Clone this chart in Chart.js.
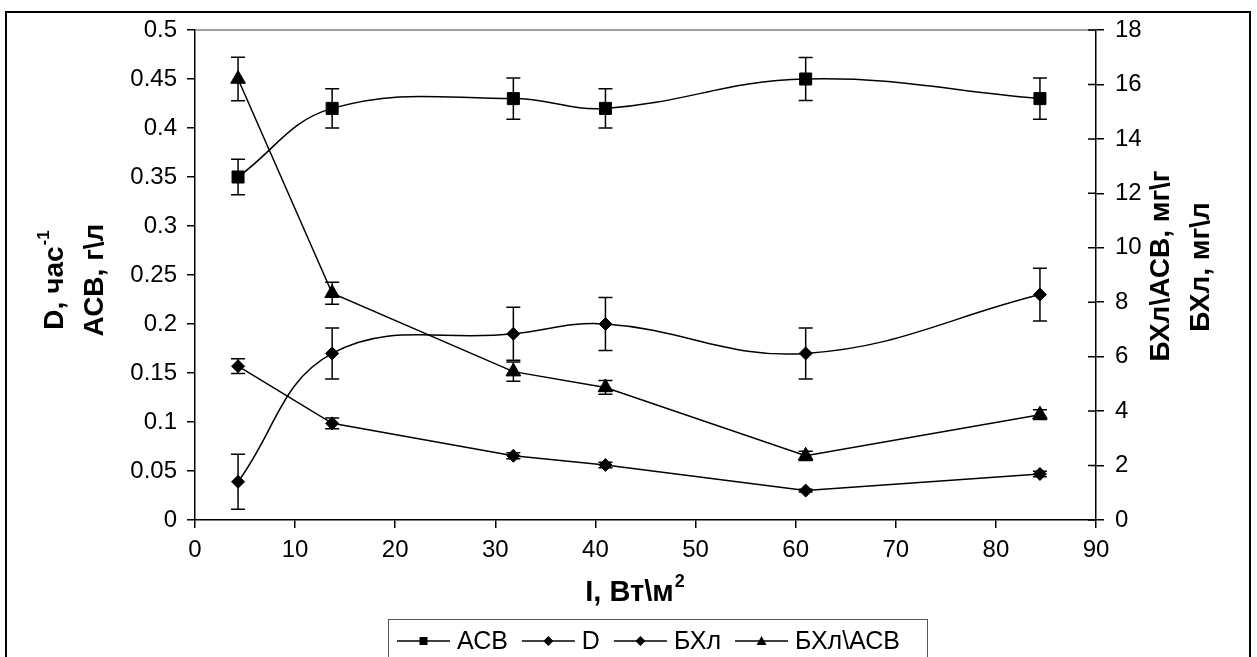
<!DOCTYPE html>
<html>
<head>
<meta charset="utf-8">
<script src="https://cdn.jsdelivr.net/npm/chart.js"></script>
<style>
  body { margin: 0; background: #fff; }
  canvas { display: block; }
</style>
</head>
<body>
<canvas id="chart" width="1257" height="657"></canvas>
<script>
// освещённость, Вт/м2
let light = [4.3, 13.7, 31.8, 41, 61, 84.4];

// левая ось
let acb = [0.35, 0.42, 0.43, 0.42, 0.45, 0.43];
let acbErr = [0.018, 0.02, 0.021, 0.02, 0.022, 0.021];
let dRate = [0.039, 0.17, 0.19, 0.2, 0.17, 0.23];
let dErr = [0.028, 0.026, 0.027, 0.027, 0.026, 0.027];

// правая ось
let bchl = [5.65, 3.55, 2.36, 2.02, 1.08, 1.69];
let bchlErr = [0.27, 0.2, 0.11, 0.1, 0.05, 0.1];
let ratio = [16.2, 8.33, 5.45, 4.87, 2.36, 3.87];
let ratioErr = [0.8, 0.4, 0.35, 0.25, 0.17, 0.18];

let xTicks = [0, 90, 10];
let yTicks = [0, 0.5, 0.05];
let y2Ticks = [0, 18, 2];

let FONT = '"Liberation Sans", Arial, sans-serif';

function pts(vals) {
  return vals.map((v, i) => ({ x: light[i], y: v }));
}

function series(label, vals, err, axis, style, radius, tension) {
  return {
    label: label,
    data: pts(vals),
    err: err,
    yAxisID: axis,
    borderColor: '#000',
    borderWidth: 1.5,
    tension: tension,
    pointStyle: style,
    pointRadius: radius,
    pointBackgroundColor: '#000',
    pointBorderColor: '#000',
    pointBorderWidth: 1
  };
}

let errorBars = {
  id: 'errorBars',
  beforeDatasetsDraw(chart) {
    let ctx = chart.ctx;
    let xs = chart.scales.x;
    ctx.save();
    ctx.strokeStyle = '#000';
    ctx.lineWidth = 1.5;
    chart.data.datasets.forEach(ds => {
      let ys = chart.scales[ds.yAxisID];
      ds.data.forEach((p, i) => {
        let e = ds.err[i];
        let px = xs.getPixelForValue(p.x);
        let top = ys.getPixelForValue(p.y + e);
        let bot = ys.getPixelForValue(p.y - e);
        ctx.beginPath();
        ctx.moveTo(px, top); ctx.lineTo(px, bot);
        ctx.moveTo(px - 7, top); ctx.lineTo(px + 7, top);
        ctx.moveTo(px - 7, bot); ctx.lineTo(px + 7, bot);
        ctx.stroke();
      });
    });
    ctx.restore();
  }
};

function titleText(ctx, cx, cy, main, sup, size) {
  let big = 'bold ' + size + 'px ' + FONT;
  let small = 'bold ' + Math.round(size * 0.62) + 'px ' + FONT;
  ctx.font = big;
  let w1 = ctx.measureText(main).width;
  ctx.font = small;
  let w2 = sup ? ctx.measureText(sup).width + 1 : 0;
  let x0 = cx - (w1 + w2) / 2;
  ctx.textAlign = 'left';
  ctx.textBaseline = 'middle';
  ctx.font = big;
  ctx.fillText(main, x0, cy);
  if (sup) {
    ctx.font = small;
    ctx.fillText(sup, x0 + w1 + 1, cy - size * 0.38);
  }
}

function vTitle(ctx, x, y, main, sup) {
  ctx.save();
  ctx.translate(x, y);
  ctx.rotate(-Math.PI / 2);
  titleText(ctx, 0, 0, main, sup, 28);
  ctx.restore();
}

let decor = {
  id: 'decor',
  afterDraw(chart) {
    let ctx = chart.ctx;
    let a = chart.chartArea;
    ctx.save();
    ctx.fillStyle = '#000';

    // верхняя граница области построения
    ctx.strokeStyle = '#808080';
    ctx.lineWidth = 1.5;
    ctx.beginPath();
    ctx.moveTo(a.left, a.top); ctx.lineTo(a.right, a.top);
    ctx.stroke();

    // внутренние засечки правой оси
    let y2 = chart.scales.y2;
    ctx.strokeStyle = '#000';
    ctx.beginPath();
    y2.ticks.forEach(t => {
      let py = y2.getPixelForValue(t.value);
      ctx.moveTo(a.right - 8, py); ctx.lineTo(a.right, py);
    });
    ctx.stroke();

    // рамка диаграммы
    ctx.lineWidth = 2;
    ctx.strokeRect(6, 12, 1244, 700);

    // подписи осей
    vTitle(ctx, 55, 280, 'D, час', '-1');
    vTitle(ctx, 95, 280, 'АСВ, г\\л', '');
    vTitle(ctx, 1161, 266, 'БХл\\АСВ, мг\\г', '');
    vTitle(ctx, 1201, 267, 'БХл, мг\\л', '');
    titleText(ctx, 635, 593, 'I, Вт\\м', '2', 29);

    // легенда
    ctx.strokeStyle = '#555';
    ctx.lineWidth = 1;
    ctx.strokeRect(388.5, 619.5, 539, 60);
    ctx.font = '25px ' + FONT;
    ctx.textBaseline = 'middle';
    ctx.textAlign = 'left';
    let x = 397;
    let y = 641;
    chart.data.datasets.forEach(ds => {
      ctx.strokeStyle = '#000';
      ctx.lineWidth = 1.5;
      ctx.beginPath();
      ctx.moveTo(x, y); ctx.lineTo(x + 53, y);
      ctx.stroke();
      let mx = x + 26.5;
      ctx.beginPath();
      if (ds.pointStyle === 'rect') {
        ctx.rect(mx - 4, y - 4, 8, 8);
      } else if (ds.pointStyle === 'rectRot') {
        ctx.moveTo(mx, y - 5); ctx.lineTo(mx + 5, y); ctx.lineTo(mx, y + 5); ctx.lineTo(mx - 5, y);
      } else {
        ctx.moveTo(mx, y - 5); ctx.lineTo(mx + 5, y + 4); ctx.lineTo(mx - 5, y + 4);
      }
      ctx.closePath();
      ctx.fill();
      ctx.fillText(ds.label, x + 60, y + 1);
      x += 60 + ctx.measureText(ds.label).width + 14;
    });
    ctx.restore();
  }
};

function fmt(v) {
  return String(Number(v.toFixed(2)));
}

let axisGrid = { drawOnChartArea: false, color: '#000', tickLength: 8, lineWidth: 1.5 };
let axisBorder = { color: '#000', width: 1.5 };
let tickFont = { family: FONT, size: 24 };

let ctx = document.getElementById('chart').getContext('2d');

let chart = new Chart(ctx, {
  type: 'line',
  data: {
    datasets: [
      series('АСВ', acb, acbErr, 'y', 'rect', 8.5, 0.4),
      series('D', dRate, dErr, 'y', 'rectRot', 6.5, 0.4),
      series('БХл', bchl, bchlErr, 'y2', 'rectRot', 6.5, 0),
      series('БХл\\АСВ', ratio, ratioErr, 'y2', 'triangle', 8.5, 0)
    ]
  },
  options: {
    animation: false,
    responsive: false,
    layout: { padding: { top: 30, left: 0, right: 0, bottom: 0 } },
    plugins: { legend: { display: false }, tooltip: { enabled: false } },
    scales: {
      x: {
        type: 'linear',
        position: 'bottom',
        min: xTicks[0], max: xTicks[1],
        ticks: { stepSize: xTicks[2], color: '#000', font: tickFont, padding: 8 },
        grid: axisGrid,
        border: axisBorder,
        afterFit: s => { s.height = 137; }
      },
      y: {
        position: 'left',
        min: yTicks[0], max: yTicks[1],
        ticks: { stepSize: yTicks[2], color: '#000', font: tickFont, padding: 10, callback: fmt },
        grid: axisGrid,
        border: axisBorder,
        afterFit: s => { s.width = 195; }
      },
      y2: {
        position: 'right',
        min: y2Ticks[0], max: y2Ticks[1],
        ticks: { stepSize: y2Ticks[2], color: '#000', font: tickFont, padding: 11 },
        grid: axisGrid,
        border: axisBorder,
        afterFit: s => { s.width = 161; }
      }
    }
  },
  plugins: [errorBars, decor]
});
</script>
</body>
</html>
